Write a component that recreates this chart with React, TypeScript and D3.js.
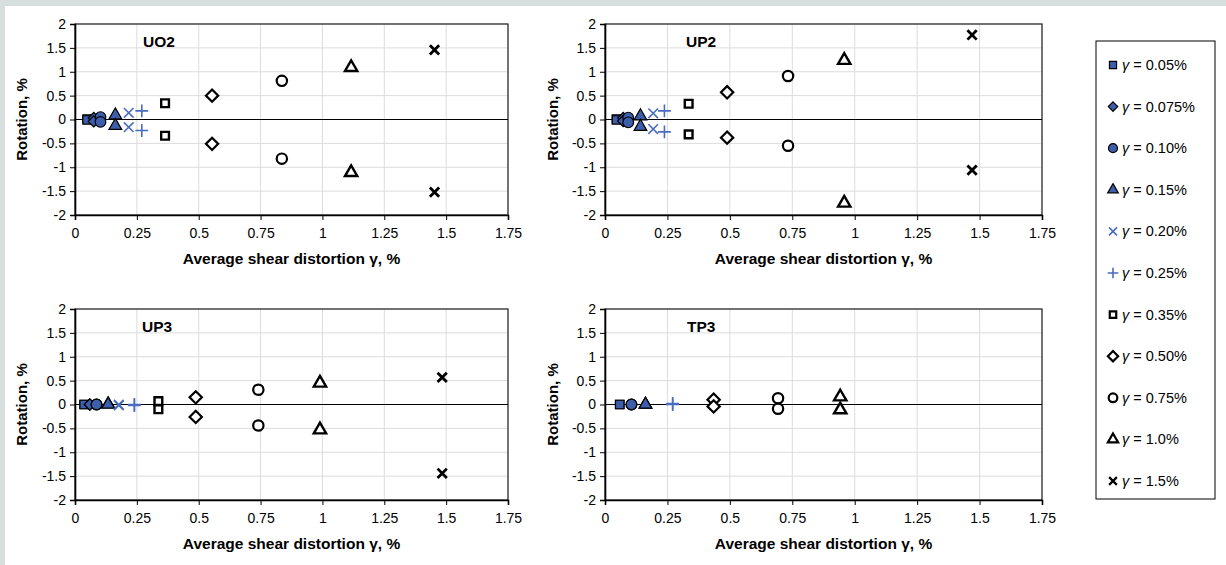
import React, { useRef, useEffect } from 'react';
import * as d3 from 'd3';

// legend / series labels (average shear distortion level)
const seriesLabels = ['0.05%', '0.075%', '0.10%', '0.15%', '0.20%', '0.25%', '0.35%', '0.50%', '0.75%', '1.0%', '1.5%'];
const xTicks = [0, 0.25, 0.5, 0.75, 1, 1.25, 1.5, 1.75];
const yTicks = [2, 1.5, 1, 0.5, 0, -0.5, -1, -1.5, -2];

// per series: [shear distortion, rotation +, rotation -], null when not present
const uo2 = [
  [0.049, 0.01, -0.01],
  [0.076, 0.03, -0.04],
  [0.103, 0.05, -0.05],
  [0.163, 0.09, -0.13],
  [0.217, 0.14, -0.16],
  [0.27, 0.18, -0.23],
  [0.364, 0.34, -0.34],
  [0.554, 0.5, -0.51],
  [0.836, 0.81, -0.82],
  [1.116, 1.09, -1.11],
  [1.453, 1.46, -1.52],
];
const up2 = [
  [0.046, 0.01, -0.01],
  [0.073, 0.03, -0.03],
  [0.093, 0.04, -0.06],
  [0.142, 0.07, -0.15],
  [0.193, 0.13, -0.2],
  [0.238, 0.18, -0.26],
  [0.335, 0.33, -0.31],
  [0.489, 0.57, -0.38],
  [0.733, 0.91, -0.55],
  [0.958, 1.24, -1.75],
  [1.47, 1.77, -1.06],
];
const up3 = [
  [0.037, 0.0, 0.0],
  [0.06, 0.0, 0.0],
  [0.087, 0.0, 0.0],
  [0.134, 0.01, 0.0],
  [0.177, 0.0, -0.02],
  [0.24, 0.0, -0.02],
  [0.337, 0.07, -0.1],
  [0.488, 0.15, -0.26],
  [0.741, 0.31, -0.44],
  [0.99, 0.45, -0.53],
  [1.484, 0.57, -1.44],
];
const tp3 = [
  [0.059, 0.0, 0.0],
  null,
  [0.106, 0.0, 0.0],
  [0.162, 0.0, 0.0],
  null,
  [0.271, 0.02, 0.0],
  null,
  [0.435, 0.1, -0.04],
  [0.693, 0.13, -0.09],
  [0.942, 0.16, -0.11],
  null,
];

const panelNames = ['UO2', 'UP2', 'UP3', 'TP3'];
const panelData = [uo2, up2, up3, tp3];

const FONT = 'Liberation Sans, Arial, sans-serif';
const BLUE = '#3d5eab';
const BLUE_LINE = '#4a6cc0';

const markers = [
  { type: d3.symbolSquare, size: 72, fill: BLUE, stroke: '#000', sw: 1.2 },
  { type: d3.symbolDiamond2, size: 80, fill: BLUE, stroke: '#000', sw: 1.2 },
  { type: d3.symbolCircle, size: 90, fill: BLUE, stroke: '#000', sw: 1.2 },
  { type: d3.symbolTriangle, size: 70, fill: BLUE, stroke: '#000', sw: 1.2 },
  { type: d3.symbolTimes, size: 62, fill: 'none', stroke: BLUE_LINE, sw: 1.6 },
  { type: d3.symbolPlus, size: 56, fill: 'none', stroke: BLUE_LINE, sw: 1.6 },
  { type: d3.symbolSquare, size: 60, fill: '#fff', stroke: '#000', sw: 2.4 },
  { type: d3.symbolDiamond2, size: 96, fill: '#fff', stroke: '#000', sw: 2.2 },
  { type: d3.symbolCircle, size: 84, fill: '#fff', stroke: '#000', sw: 2.2 },
  { type: d3.symbolTriangle, size: 66, fill: '#fff', stroke: '#000', sw: 2.4 },
  { type: d3.symbolTimes, size: 58, fill: 'none', stroke: '#000', sw: 2.8 },
];

const App = () => {
  const svgRef = useRef(null);

  useEffect(() => {
    const width = 1226;
    const height = 565;
    const svg = d3.select(svgRef.current);
    svg.selectAll('*').remove();
    svg.attr('width', width).attr('height', height);

    // page background and grey frame strips
    svg.append('rect').attr('width', width).attr('height', height).attr('fill', '#fff');
    svg.append('rect').attr('width', width).attr('height', 6).attr('fill', '#d7dfde');
    svg.append('rect').attr('width', 5).attr('height', height).attr('fill', '#d7dfde');

    const boxes = [
      { left: 75, right: 508, top: 24, bottom: 215, titleX: 22, labelDx: 68 },
      { left: 605, right: 1042, top: 24, bottom: 215, titleX: 553, labelDx: 81 },
      { left: 75, right: 508, top: 309, bottom: 500, titleX: 22, labelDx: 67 },
      { left: 605, right: 1042, top: 309, bottom: 500, titleX: 553, labelDx: 82 },
    ];

    boxes.forEach((b, pi) => {
      const x = d3.scaleLinear().domain([0, 1.75]).range([b.left, b.right]);
      const y = d3.scaleLinear().domain([-2, 2]).range([b.bottom, b.top]);
      const g = svg.append('g');

      // gridlines
      g.selectAll('.vgrid')
        .data(xTicks.slice(1))
        .enter().append('line')
        .attr('x1', d => x(d)).attr('x2', d => x(d))
        .attr('y1', b.top).attr('y2', b.bottom)
        .attr('stroke', '#dcdcdc').attr('stroke-width', 1);
      g.selectAll('.hgrid')
        .data(yTicks)
        .enter().append('line')
        .attr('x1', b.left).attr('x2', b.right)
        .attr('y1', d => y(d)).attr('y2', d => y(d))
        .attr('stroke', '#dcdcdc').attr('stroke-width', 1);

      // plot area border
      g.append('rect')
        .attr('x', b.left).attr('y', b.top)
        .attr('width', b.right - b.left).attr('height', b.bottom - b.top)
        .attr('fill', 'none').attr('stroke', '#222').attr('stroke-width', 1.2);

      // zero line
      g.append('line')
        .attr('x1', b.left).attr('x2', b.right)
        .attr('y1', y(0)).attr('y2', y(0))
        .attr('stroke', '#000').attr('stroke-width', 1);

      // axes
      const yAxis = g.append('g')
        .attr('transform', `translate(${b.left},0)`)
        .call(d3.axisLeft(y).tickValues(yTicks).tickSize(5).tickPadding(4));
      const xAxis = g.append('g')
        .attr('transform', `translate(0,${b.bottom})`)
        .call(d3.axisBottom(x).tickValues(xTicks).tickSize(5).tickPadding(8).tickFormat(d => String(d)));
      [yAxis, xAxis].forEach(ax => {
        ax.select('.domain').attr('stroke', '#000').attr('stroke-width', 1.6);
        ax.selectAll('.tick line').attr('stroke', '#000');
        ax.selectAll('.tick text')
          .attr('font-family', FONT).attr('font-size', 14).attr('fill', '#000');
      });
      yAxis.selectAll('.tick text').text(d => (d < 0 ? '-' + Math.abs(d) : String(d)));

      // titles
      g.append('text')
        .attr('x', (b.left + b.right) / 2).attr('y', b.bottom + 49)
        .attr('text-anchor', 'middle')
        .attr('font-family', FONT).attr('font-size', 15.5).attr('font-weight', 'bold')
        .text('Average shear distortion γ, %');
      g.append('text')
        .attr('transform', `translate(${b.titleX},${(b.top + b.bottom) / 2}) rotate(-90)`)
        .attr('text-anchor', 'middle').attr('dy', '0.35em')
        .attr('font-family', FONT).attr('font-size', 15).attr('font-weight', 'bold')
        .text('Rotation, %');
      g.append('text')
        .attr('x', b.left + b.labelDx).attr('y', b.top + 18).attr('dy', '0.35em')
        .attr('font-family', FONT).attr('font-size', 15.5).attr('font-weight', 'bold')
        .text(panelNames[pi]);

      // markers
      panelData[pi].forEach((row, si) => {
        if (!row) return;
        const m = markers[si];
        const path = d3.symbol().type(m.type).size(m.size)();
        [row[1], row[2]].forEach(v => {
          g.append('path')
            .attr('d', path)
            .attr('transform', `translate(${x(row[0])},${y(v)})`)
            .attr('fill', m.fill)
            .attr('stroke', m.stroke)
            .attr('stroke-width', m.sw)
            .attr('stroke-linejoin', 'miter');
        });
      });
    });

    // legend
    const legend = svg.append('g');
    legend.append('rect')
      .attr('x', 1096).attr('y', 41).attr('width', 119).attr('height', 458)
      .attr('fill', '#fff').attr('stroke', '#000').attr('stroke-width', 1);
    const ly = d3.scalePoint().domain(seriesLabels).range([65, 481]);
    seriesLabels.forEach((lab, i) => {
      const m = markers[i];
      legend.append('path')
        .attr('d', d3.symbol().type(m.type).size(m.size * 0.7)())
        .attr('transform', `translate(1113,${ly(lab)})`)
        .attr('fill', m.fill).attr('stroke', m.stroke)
        .attr('stroke-width', Math.min(m.sw, 2.2));
      const t = legend.append('text')
        .attr('x', 1122).attr('y', ly(lab)).attr('dy', '0.35em')
        .attr('font-family', FONT).attr('font-size', 14.5);
      t.append('tspan').attr('font-style', 'italic').text('γ');
      t.append('tspan').text(' = ' + lab);
    });
  }, []);

  return (
    <svg ref={svgRef} style={{ position: 'absolute', left: 0, top: 0 }}></svg>
  );
};

export default App;
